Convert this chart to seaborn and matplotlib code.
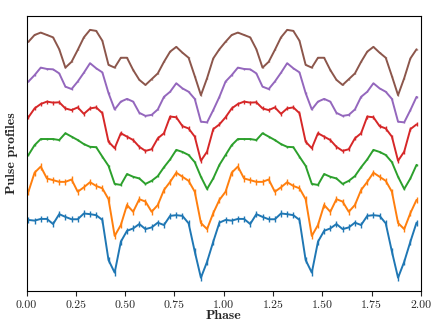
import numpy as np
import pandas as pd
import matplotlib
matplotlib.use('Agg')
import matplotlib.pyplot as plt
import seaborn as sns

# --- data: one rotation (32 phase bins), shown twice ---
n_bins = 32
blue = [2.12, 2.10, 2.15, 2.15, 2.00, 2.29, 2.21, 2.14, 2.14, 2.31, 2.29, 2.26,
        2.12, 0.94, 0.57, 1.48, 1.80, 1.87, 2.00, 1.85, 1.90, 2.04, 1.97, 2.24,
        2.26, 2.24, 2.02, 1.19, 0.42, 0.89, 1.48, 2.04]
orange = [1.95, 2.51, 2.69, 2.34, 2.29, 2.24, 2.24, 2.31, 1.95, 2.08, 2.23, 2.12,
          2.05, 1.73, 0.65, 0.97, 1.56, 1.36, 1.73, 1.66, 1.36, 1.56, 2.00, 2.24,
          2.51, 2.39, 2.27, 1.95, 1.03, 0.85, 1.32, 1.71]
green = [2.03, 2.32, 2.50, 2.50, 2.50, 2.47, 2.67, 2.57, 2.47, 2.35, 2.27, 2.26,
         1.98, 1.71, 1.18, 1.15, 1.47, 1.39, 1.34, 1.18, 1.27, 1.41, 1.67, 1.90,
         2.18, 2.12, 2.03, 1.82, 1.39, 1.03, 1.34, 1.74]
red = [2.14, 2.40, 2.53, 2.60, 2.57, 2.58, 2.40, 2.35, 2.43, 2.24, 2.40, 2.43,
       2.26, 1.42, 1.23, 1.67, 1.57, 1.47, 1.27, 1.15, 1.20, 1.52, 1.67, 2.16,
       2.14, 1.88, 1.81, 1.57, 0.86, 1.13, 1.79, 1.93]
purple = [2.19, 2.38, 2.60, 2.56, 2.55, 2.43, 2.04, 1.97, 2.19, 2.45, 2.73, 2.58,
          2.46, 1.85, 1.37, 1.60, 1.68, 1.60, 1.27, 1.18, 1.21, 1.37, 1.74, 1.89,
          2.14, 1.99, 1.89, 1.68, 1.01, 0.99, 1.35, 1.74]
brown = [2.36, 2.56, 2.63, 2.56, 2.49, 2.14, 1.60, 1.77, 2.12, 2.49, 2.71, 2.68,
         2.39, 1.68, 1.60, 1.89, 1.89, 1.53, 1.24, 1.09, 1.26, 1.43, 1.77, 2.07,
         2.21, 2.04, 1.89, 1.35, 0.79, 1.29, 1.87, 2.14]

profiles = [blue, orange, green, red, purple, brown]
errors = [0.09, 0.09, 0.03, 0.06, 0.02, 0.015]
offsets = [0, 1, 2, 3, 4, 5]
colors = sns.color_palette('tab10', 6)

# --- long table for seaborn ---
phase = (np.arange(2 * n_bins) + 0.3) / n_bins
rows = []
for k, prof in enumerate(profiles):
    vals = np.tile(prof, 2) + offsets[k]
    for ph, v in zip(phase, vals):
        rows.append({'phase': ph, 'flux': v, 'band': k, 'err': errors[k]})
df = pd.DataFrame(rows)

sns.set_style('ticks')
plt.rcParams['font.family'] = ['cmr10', 'DejaVu Serif']
plt.rcParams['axes.formatter.use_mathtext'] = True

fig = plt.figure(figsize=(4.43, 3.32), dpi=100)
ax = fig.add_axes([0.060, 0.1235, 0.890, 0.8285])

sns.lineplot(data=df, x='phase', y='flux', hue='band', palette=colors,
             linewidth=1.4, legend=False, ax=ax, sort=False, estimator=None)
for k in range(len(profiles)):
    d = df[df['band'] == k]
    ax.errorbar(d['phase'], d['flux'], yerr=d['err'], fmt='none',
                ecolor=colors[k], elinewidth=1.0, capsize=0)

ax.set_xlim(0, 2)
ax.set_ylim(0.03, 8.12)
ax.set_xticks(np.arange(0, 2.01, 0.25))
ax.set_xticklabels([f'{t:.2f}' for t in np.arange(0, 2.01, 0.25)], fontsize=8.5)
ax.set_yticks([])
ax.tick_params(axis='x', direction='out', length=3.5, width=0.8, pad=3)
for s in ax.spines.values():
    s.set_visible(True)
    s.set_linewidth(0.8)
    s.set_color('black')

ax.set_xlabel('Phase', fontsize=10, fontfamily=['cmb10', 'DejaVu Serif'], labelpad=0)
ax.set_ylabel('Pulse profiles', fontsize=10, fontfamily=['cmb10', 'DejaVu Serif'], labelpad=6)

fig.savefig('out.png', dpi=100)
